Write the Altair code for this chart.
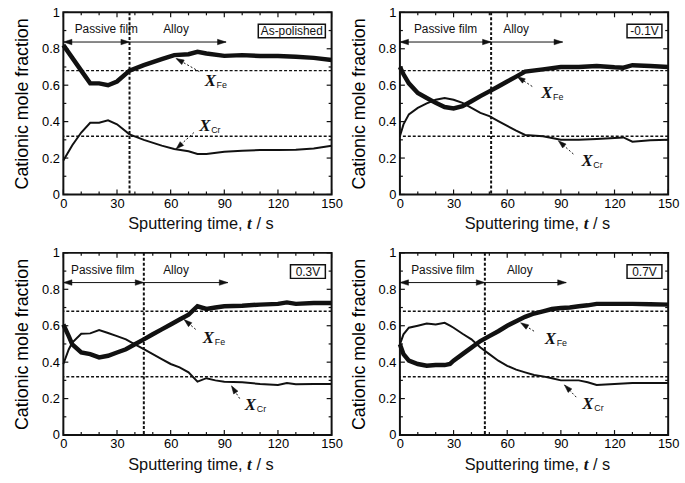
import math
import altair as alt
import pandas as pd

W, H = 271, 184
FONT = "Liberation Sans"
SERIF = "Liberation Serif"

# ---------------- data ----------------
t1 = [0, 5, 10, 15, 20, 25, 30, 37, 45, 55, 62, 70, 75, 80, 90, 100, 110, 120, 130, 140, 150]
fe1 = [0.82, 0.75, 0.68, 0.61, 0.61, 0.60, 0.62, 0.68, 0.71, 0.743, 0.765, 0.77, 0.783, 0.774, 0.761, 0.765, 0.76, 0.76, 0.756, 0.75, 0.738]
cr1 = [0.186, 0.27, 0.34, 0.394, 0.394, 0.407, 0.385, 0.33, 0.30, 0.268, 0.25, 0.237, 0.222, 0.222, 0.235, 0.24, 0.244, 0.244, 0.246, 0.252, 0.268]

t2 = [0, 2, 5, 10, 15, 20, 25, 30, 35, 40, 45, 50, 55, 60, 65, 70, 80, 90, 100, 110, 120, 125, 130, 140, 150]
fe2 = [0.70, 0.66, 0.61, 0.557, 0.53, 0.503, 0.48, 0.472, 0.485, 0.512, 0.54, 0.566, 0.593, 0.62, 0.647, 0.675, 0.687, 0.70, 0.70, 0.705, 0.698, 0.696, 0.71, 0.705, 0.70]
cr2 = [0.32, 0.385, 0.44, 0.475, 0.50, 0.52, 0.53, 0.52, 0.503, 0.475, 0.448, 0.43, 0.403, 0.376, 0.35, 0.327, 0.32, 0.30, 0.30, 0.304, 0.31, 0.313, 0.29, 0.298, 0.30]

t3 = [0, 3, 5, 10, 15, 20, 25, 30, 35, 40, 45, 50, 55, 60, 65, 70, 75, 80, 85, 90, 100, 110, 120, 125, 130, 140, 150]
fe3 = [0.607, 0.543, 0.498, 0.453, 0.444, 0.426, 0.435, 0.453, 0.471, 0.498, 0.525, 0.553, 0.58, 0.607, 0.634, 0.661, 0.707, 0.692, 0.70, 0.707, 0.71, 0.716, 0.72, 0.728, 0.72, 0.725, 0.725]
cr3 = [0.39, 0.47, 0.507, 0.556, 0.558, 0.576, 0.56, 0.543, 0.525, 0.498, 0.471, 0.444, 0.417, 0.39, 0.371, 0.344, 0.293, 0.312, 0.30, 0.293, 0.29, 0.28, 0.275, 0.286, 0.279, 0.28, 0.28]

t4 = [0, 2, 5, 10, 15, 20, 25, 28, 30, 35, 40, 45, 50, 55, 60, 65, 70, 75, 80, 85, 90, 95, 100, 105, 110, 120, 130, 140, 150]
fe4 = [0.498, 0.444, 0.408, 0.39, 0.38, 0.384, 0.384, 0.39, 0.408, 0.444, 0.48, 0.516, 0.543, 0.57, 0.60, 0.625, 0.649, 0.667, 0.679, 0.692, 0.697, 0.70, 0.707, 0.712, 0.72, 0.72, 0.72, 0.718, 0.716]
cr4 = [0.498, 0.553, 0.589, 0.60, 0.612, 0.607, 0.616, 0.60, 0.589, 0.556, 0.525, 0.48, 0.444, 0.408, 0.38, 0.359, 0.344, 0.33, 0.322, 0.312, 0.30, 0.30, 0.30, 0.29, 0.275, 0.28, 0.286, 0.286, 0.286]

panel_labels = ["As-polished", "-0.1V", "0.3V", "0.7V"]
boundaries = [37, 51, 45, 47.5]
ref_levels = [0.68, 0.32]

passive_text_t = [24, 25.5, 22, 24]
alloy_text_t = [63, 65, 63, 67]
alloy_arrow_end = [91, 91, 92, 93]
region_text_v = 0.885
region_arrow_v = 0.837

fe_label = [(79, 0.62), (79, 0.557), (78, 0.534), (81, 0.525)]
fe_arrow = [(76, 0.675, 63, 0.747), (74, 0.593, 65.6, 0.647), (74, 0.58, 67.5, 0.634), (75, 0.57, 67.5, 0.616)]
cr_label = [(76, 0.376), (101.5, 0.186), (101.5, 0.163), (102, 0.172)]
cr_arrow = [(73, 0.34, 63, 0.25), (97, 0.222, 88.6, 0.295), (98.6, 0.2, 94, 0.27), (98.6, 0.208, 92, 0.275)]

box_t = [(109, 146.5), (127, 146.5), (127, 146.5), (127, 146.5)]
box_v = (0.86, 0.935)

x_major = [0, 30, 60, 90, 120, 150]
x_minor = [10, 20, 40, 50, 70, 80, 100, 110, 130, 140]
y_major = [0, 0.2, 0.4, 0.6, 0.8, 1.0]
y_minor = [0.1, 0.3, 0.5, 0.7, 0.9]

series_t = [t1, t2, t3, t4]
series_fe = [fe1, fe2, fe3, fe4]
series_cr = [cr1, cr2, cr3, cr4]

INK = "#111111"


def angle(x1, y1, x2, y2):
    dx = (x2 - x1) * W / 150.0
    dy = -(y2 - y1) * H
    return math.degrees(math.atan2(dx, -dy)) % 360


def panel(i):
    xs = alt.Scale(domain=[0, 150], nice=False)
    ys = alt.Scale(domain=[0, 1], nice=False)
    xaxis = alt.Axis(values=x_major, ticks=False, domain=False, grid=False, labelFontSize=13,
                     labelPadding=3, title=None, labelFont=FONT, labelColor="black", labelFlush=False)
    yaxis = alt.Axis(values=y_major, format="~g", ticks=False, domain=False, grid=False,
                     labelFontSize=13, labelPadding=4, labelFont=FONT, labelColor="black",
                     title="Cationic mole fraction", titleFont=FONT, titleFontSize=18,
                     titleFontWeight="normal", titleColor="black", titlePadding=10)
    X = lambda f="t": alt.X(f + ":Q", scale=xs, axis=xaxis)
    Y = lambda f="v": alt.Y(f + ":Q", scale=ys, axis=yaxis)

    b = boundaries[i]
    df_fe = pd.DataFrame({"t": series_t[i], "v": series_fe[i]})
    df_cr = pd.DataFrame({"t": series_t[i], "v": series_cr[i]})
    layers = []
    # reference lines
    layers.append(alt.Chart(pd.DataFrame({"v": ref_levels})).mark_rule(
        color=INK, strokeWidth=1.5, strokeDash=[3, 2]).encode(y=Y()))
    layers.append(alt.Chart(pd.DataFrame({"t": [b]})).mark_rule(
        color=INK, strokeWidth=2, strokeDash=[3, 2]).encode(x=X()))
    # curves
    layers.append(alt.Chart(df_cr).mark_line(color=INK, strokeWidth=2).encode(x=X(), y=Y()))
    layers.append(alt.Chart(df_fe).mark_line(color=INK, strokeWidth=4.5).encode(x=X(), y=Y()))

    # region arrows
    solid = pd.DataFrame({"t": [0, b], "v": [region_arrow_v] * 2,
                          "t2": [b, alloy_arrow_end[i]], "v2": [region_arrow_v] * 2})
    layers.append(alt.Chart(solid).mark_rule(color=INK, strokeWidth=1).encode(
        x=X(), y=Y(), x2="t2:Q", y2="v2:Q"))
    fa, ca = fe_arrow[i], cr_arrow[i]
    dashed = pd.DataFrame({"t": [fa[0], ca[0]], "v": [fa[1], ca[1]],
                           "t2": [fa[2], ca[2]], "v2": [fa[3], ca[3]]})
    layers.append(alt.Chart(dashed).mark_rule(color=INK, strokeWidth=1, strokeDash=[2, 2]).encode(
        x=X(), y=Y(), x2="t2:Q", y2="v2:Q"))
    heads = pd.DataFrame({
        "t": [0, b, alloy_arrow_end[i], fa[2], ca[2]],
        "v": [region_arrow_v, region_arrow_v, region_arrow_v, fa[3], ca[3]],
        "a": [270, 90, 90, angle(*fa), angle(*ca)],
        "s": [300, 300, 300, 260, 260],
    })
    layers.append(alt.Chart(heads).mark_point(
        shape="M0,0L-0.32,1L0.32,1Z", filled=True, fill=INK, fillOpacity=1, stroke=INK,
        strokeWidth=0.5, opacity=1).encode(
        x=X(), y=Y(), angle=alt.Angle("a:Q", scale=None), size=alt.Size("s:Q", scale=None)))

    # region texts
    rt = pd.DataFrame({"t": [passive_text_t[i], alloy_text_t[i]], "v": [region_text_v] * 2,
                       "s": ["Passive film", "Alloy"]})
    layers.append(alt.Chart(rt).mark_text(font=FONT, fontSize=12, color=INK).encode(
        x=X(), y=Y(), text="s:N"))

    # X_Fe and X_Cr labels
    lab = pd.DataFrame({"t": [fe_label[i][0], cr_label[i][0]], "v": [fe_label[i][1], cr_label[i][1]],
                        "s": ["X", "X"], "sub": ["Fe", "Cr"]})
    layers.append(alt.Chart(lab).mark_text(font=SERIF, fontSize=17, fontWeight="bold", fontStyle="italic",
                                           align="left", baseline="middle", color=INK).encode(
        x=X(), y=Y(), text="s:N"))
    layers.append(alt.Chart(lab).mark_text(font=FONT, fontSize=9, align="left", baseline="middle",
                                           dx=12, dy=4, color=INK).encode(x=X(), y=Y(), text="sub:N"))

    # condition box
    bx = pd.DataFrame({"t": [box_t[i][0]], "t2": [box_t[i][1]], "v": [box_v[0]], "v2": [box_v[1]],
                       "tm": [(box_t[i][0] + box_t[i][1]) / 2], "vm": [(box_v[0] + box_v[1]) / 2],
                       "s": [panel_labels[i]]})
    layers.append(alt.Chart(bx).mark_rect(fill="white", stroke=INK, strokeWidth=1.5).encode(
        x=X(), x2="t2:Q", y=Y(), y2="v2:Q"))
    layers.append(alt.Chart(bx).mark_text(font=FONT, fontSize=12, color=INK, baseline="middle").encode(
        x=X("tm"), y=Y("vm"), text="s:N"))

    # inward ticks on all four sides
    for vals, ln in ((x_major, 5), (x_minor, 3)):
        d = pd.DataFrame({"t": vals})
        layers.append(alt.Chart(d).mark_rule(color=INK, strokeWidth=1.2).encode(
            x=X(), y=alt.value(H), y2=alt.value(H - ln)))
        layers.append(alt.Chart(d).mark_rule(color=INK, strokeWidth=1.2).encode(
            x=X(), y=alt.value(0), y2=alt.value(ln)))
    for vals, ln in ((y_major, 5), (y_minor, 3)):
        d = pd.DataFrame({"v": vals})
        layers.append(alt.Chart(d).mark_rule(color=INK, strokeWidth=1.2).encode(
            y=Y(), x=alt.value(0), x2=alt.value(ln)))
        layers.append(alt.Chart(d).mark_rule(color=INK, strokeWidth=1.2).encode(
            y=Y(), x=alt.value(W), x2=alt.value(W - ln)))

    # x-axis title with italic symbol
    tt = pd.DataFrame({"s": ["Sputtering time,"], "t": ["t"], "u": ["/ s"]})
    base_y = H + 35
    layers.append(alt.Chart(tt).mark_text(font=FONT, fontSize=16.5, align="right", color=INK).encode(
        x=alt.value(181), y=alt.value(base_y), text="s:N"))
    layers.append(alt.Chart(tt).mark_text(font=SERIF, fontSize=17, fontWeight="bold", fontStyle="italic",
                                          align="center", color=INK).encode(
        x=alt.value(188), y=alt.value(base_y), text="t:N"))
    layers.append(alt.Chart(tt).mark_text(font=FONT, fontSize=16.5, align="left", color=INK).encode(
        x=alt.value(195), y=alt.value(base_y), text="u:N"))

    return alt.layer(*layers).properties(width=W, height=H)


chart = alt.concat(*[panel(i) for i in range(4)], columns=2, spacing={"row": 59, "column": 69},
                   bounds="flush").properties(
    padding={"left": 12, "top": 3, "right": 5, "bottom": 5},
    background="white",
).configure_view(stroke=INK, strokeWidth=2).configure_text(baseline="alphabetic")

chart.save("out.html", embed_options={"renderer": "svg", "actions": False})
